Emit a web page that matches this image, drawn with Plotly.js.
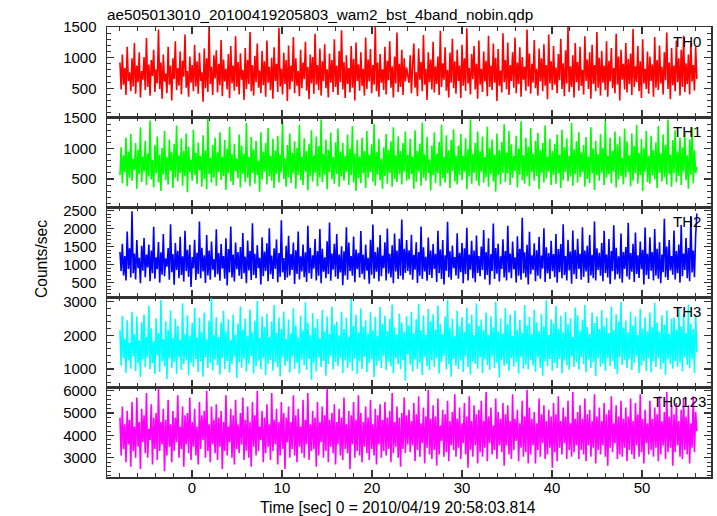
<!DOCTYPE html>
<html><head><meta charset="utf-8">
<script src="https://cdn.plot.ly/plotly-3.0.1.min.js"></script>
<style>html,body{margin:0;padding:0;background:#fff}#chart{width:717px;height:516px}</style>
</head><body><div id="chart"></div>
<script>
const chartTitle = "ae505013010_20100419205803_wam2_bst_4band_nobin.qdp";
const xTitle = "Time [sec] 0 = 2010/04/19 20:58:03.814";
const yTitle = "Counts/sec";
const bandLabels = ["TH0", "TH1", "TH2", "TH3", "TH0123"];
const bandColors = ["#ff0000", "#00ff00", "#0000ff", "#00ffff", "#ff00ff"];
const timeStart = -8.0;
const timeEnd = 56.1;

const th0 = [
920,480,1050,560,830,390,1180,620,760,450,990,530,1240,410,870,600,1090,350,780,640,
1010,470,1320,520,890,380,960,700,1130,440,810,580,1460,490,920,330,1050,610,740,420,
1180,560,870,300,990,650,1270,470,830,540,1100,400,950,690,1380,510,780,360,1020,590,
880,450,1210,530,940,410,1080,620,760,280,1150,500,990,440,1500,570,850,390,1040,660,
1120,430,900,550,1290,370,970,610,820,480,1060,340,1190,580,870,460,1350,520,930,400,
1070,640,800,310,1160,490,960,570,1420,450,880,380,1030,600,1230,510,790,420,1110,550,
940,360,1280,590,850,470,1000,330,1170,620,900,440,1490,530,820,400,1080,570,960,290,
1200,480,870,610,1340,420,990,540,780,370,1130,500,920,650,1260,460,850,320,1050,580,
1010,410,1390,560,880,470,1150,380,940,620,1220,500,810,350,1070,590,960,440,1300,520,
870,390,1110,600,1450,480,930,340,1040,570,830,430,1190,510,980,300,1250,620,890,460,
1090,540,820,380,1330,490,970,610,1140,420,880,560,1500,450,920,360,1060,590,810,470,
1180,400,950,630,1270,510,860,350,1020,580,1410,440,900,520,1130,390,990,610,840,700,
590,1040,420,880,1230,510,760,370,1150,640,930,450,1370,560,820,310,1090,600,970,480,
1260,430,860,570,1020,390,1440,520,910,640,1170,460,800,350,1080,590,1310,500,940,410,
1130,620,870,340,1210,540,990,460,1480,580,830,400,1060,650,1190,480,900,330,1280,560,
820,440,1100,610,950,370,1360,520,870,470,1230,590,1000,290,1140,540,790,430,1400,600,
960,480,1250,390,880,620,1090,510,1330,420,920,570,1170,360,1010,640,850,460,1460,530,
1070,410,900,590,1290,500,820,380,1150,610,990,450,1220,540,880,320,1380,580,940,470,
1190,560,840,420,1060,630,1310,490,910,370,1120,580,1500,440,860,520,1040,350,1240,600,
930,460,1180,540,800,400,1350,620,970,490,1090,330,1210,570,880,450,1420,510,1000,380,
1110,590,870,470,1270,360,950,610,1160,500,830,420,1390,560,1020,300,1130,640,900,480,
1240,430,980,570,1070,390,1470,520,860,600,1190,450,940,340,1300,580,820,490,1100,410,
1020,620,890,360,1340,510,960,470,1200,580,850,400,1090,630,1410,490,920,320,1160,550,
870,450,1280,600,990,380,1130,520,1360,440,910,570,1050,400,1250,610,880,460,1180,650];

const th1 = [
560,1020,430,890,610,1180,380,950,520,1240,470,830,650,1090,340,980,580,1350,450,870,
620,1130,400,920,540,1460,490,810,360,1060,590,1200,440,900,300,1010,570,1290,480,860,
410,1150,630,940,350,1080,520,1380,460,890,600,1170,390,960,540,1250,280,1030,610,820,
470,1310,560,930,420,1100,640,880,370,1220,500,970,330,1490,580,850,440,1060,520,1180,
390,940,610,1270,480,870,550,1140,320,1000,590,1360,460,910,400,1080,630,830,510,1230,
360,1050,580,920,450,1420,520,860,380,1190,600,990,420,1130,560,800,290,1270,490,950,
620,1090,410,1340,540,880,470,1160,350,970,580,1210,440,900,610,1450,500,840,370,1060,
530,1250,430,930,590,1120,340,1010,560,1390,480,870,400,1170,620,960,310,1080,540,1300,
460,890,600,1200,380,1040,520,1480,450,910,570,1150,330,980,610,1260,490,860,420,1100,
580,1330,370,950,540,1090,470,880,620,1230,400,1000,560,1370,440,920,300,1140,510,870,
430,1180,590,960,350,1290,520,900,610,1070,460,1410,390,940,570,1160,480,830,340,1020,
550,1240,420,980,600,1120,370,1350,500,890,450,1200,580,960,410,1090,620,1280,470,900,
490,1160,580,870,340,1300,450,960,620,1080,390,1430,520,900,470,1190,600,820,310,1050,
560,1270,430,920,600,1110,380,1390,510,860,440,1220,590,970,350,1140,630,1320,460,890,
410,1050,570,1240,480,880,620,1170,330,990,540,1480,420,910,600,1090,470,1280,390,950,
620,1200,440,860,530,1360,370,1010,580,1150,460,900,290,1250,560,970,410,1110,600,1400,
450,930,590,1290,400,1070,520,880,630,1210,360,1000,570,1450,480,890,420,1180,540,1030,
380,1340,610,920,470,1130,550,1260,330,980,600,1090,440,1380,510,870,620,1160,400,960,
570,1080,420,1230,590,900,350,1310,480,1020,610,1170,460,880,540,1420,390,990,580,1120,
440,1270,530,940,610,1060,370,1190,500,870,430,1350,590,1000,320,1130,560,910,470,1240,
600,1010,400,1460,520,880,580,1180,430,960,620,1280,360,1070,490,1200,550,850,410,1330,
530,1120,610,890,380,1250,470,1040,590,1390,420,930,560,1160,300,1010,620,1290,450,880,
420,1210,560,980,490,1100,350,1370,600,920,460,1230,530,1060,410,1480,580,900,370,1140,
590,1300,440,950,550,1180,400,1020,620,1260,480,890,340,1150,570,1350,430,970,600,700];

const th2 = [
1350,820,1580,700,1240,560,1920,880,1450,640,2480,760,1310,590,1680,900,1190,480,1520,830,
1740,650,1280,920,1560,540,1390,760,2050,610,1200,870,1630,500,1340,720,1850,680,1170,940,
1460,580,2120,790,1290,440,1600,850,1380,620,1770,710,1230,530,1940,820,1410,660,1550,380,
1210,900,1690,570,1330,740,2200,620,1470,810,1260,490,1820,700,1390,580,1640,860,1150,650,
1980,730,1320,550,1570,890,1240,610,1730,420,1430,780,2060,640,1280,530,1610,870,1350,690,
1490,600,1880,760,1220,480,1670,840,1380,570,2150,710,1300,620,1540,900,1190,450,1760,680,
1360,820,1590,540,2010,730,1250,600,1450,880,1700,510,1320,660,2230,780,1180,570,1520,640,
1800,700,1290,850,1610,460,1400,740,1920,590,1230,810,1560,650,1340,520,2080,760,1470,610,
1260,890,1710,560,1380,690,1990,480,1440,800,1200,620,1650,740,2170,550,1310,860,1580,660,
1850,600,1280,780,1510,430,1370,700,2040,580,1610,820,1240,690,1780,510,1420,870,1330,640,
1930,740,1270,590,1560,830,1190,470,1690,720,2110,610,1350,800,1480,540,1820,680,1250,900,
1620,560,2000,750,1300,640,1540,480,1860,810,1390,600,1720,690,2250,580,1440,770,1680,820,
1400,720,1830,580,1270,860,1620,490,1350,690,2060,600,1480,810,1220,550,1750,710,1390,630,
1570,880,1300,520,1940,760,1420,600,1680,450,1260,830,2190,650,1370,580,1530,900,1210,700,
1870,610,1330,790,1600,480,1450,740,2020,560,1280,860,1660,620,1390,510,1810,770,1240,680,
1500,850,1960,590,1350,710,1730,440,1290,820,2140,600,1460,750,1580,530,1230,880,1700,640,
1380,560,2080,780,1310,620,1640,870,1200,500,1790,690,1440,580,2300,760,1340,640,1550,450,
1910,730,1260,850,1590,540,1400,690,1770,610,1250,890,2010,520,1480,760,1320,600,1660,820,
1290,650,1850,500,1430,790,1570,620,2120,710,1240,560,1690,840,1360,470,1950,730,1410,600,
1720,880,1300,580,2040,660,1390,810,1520,490,1820,700,1270,620,2200,560,1450,850,1330,690,
1600,540,1940,770,1280,640,1710,460,1380,820,2090,590,1470,730,1230,610,1860,500,1350,880,
1490,670,2160,590,1320,800,1580,520,1890,740,1260,630,1640,870,1410,450,2030,710,1300,600,
1760,830,1350,560,1990,690,1440,610,1620,480,1280,790,2270,650,1500,570,1680,840,1240,720,
1950,590,1380,760,1560,500,2100,680,1310,850,1740,620,1460,540,2350,780,1390,650,1820,2420];

const th3 = [
2150,1100,2580,1320,1900,880,2450,1250,1780,1010,2700,1380,2030,940,2560,1180,1850,760,2390,1290,
2620,1050,1960,1340,2880,990,2210,1170,1820,850,2510,1400,2070,920,3050,1230,1890,1080,2420,700,
2160,1310,2740,1020,1930,1200,2490,860,2280,1360,1870,980,2950,1140,2050,1260,2600,810,1990,1190,
2370,1060,2810,1300,1940,910,2530,1220,2100,770,2680,1350,1880,1030,2440,1170,3100,960,2020,1280,
2540,1110,1950,840,2390,1330,2730,1000,2110,1240,2480,890,1860,1150,2620,1370,2020,730,2350,1210,
2860,1040,2170,1290,2500,920,1980,1160,2770,1390,2090,870,2430,1080,3020,1250,1920,990,2560,1320,
2250,820,2640,1140,1960,1270,2410,950,2900,1200,2080,1050,2530,780,2190,1340,2710,1090,1900,1230,
2470,900,2060,1370,2800,1010,2300,1180,1940,860,2590,1280,2150,1110,2980,970,2380,1300,2010,680,
2660,1170,2230,930,2490,1350,1910,1060,2750,1240,2120,800,2560,1150,2040,1380,2850,990,2320,1210,
2410,1090,2000,1330,2700,880,2180,1260,2520,1020,1960,1190,3080,940,2290,1310,2610,850,2090,1230,
2800,1000,2260,1360,2450,910,2060,1170,2690,1290,2150,760,2550,1100,1980,1240,2840,1030,2340,1380,
2580,960,2130,1220,2490,1080,2920,870,2240,1320,2030,1140,2650,990,2380,1270,2110,660,2570,1430,
2290,1130,2700,930,2060,1280,2480,1010,2940,1190,2150,820,2590,1360,2010,1080,2780,960,2420,1250,
2630,1050,2180,1320,2890,870,2340,1210,2050,1390,2560,990,3060,1140,2210,770,2490,1300,1970,1100,
2720,1000,2270,1250,2540,910,2100,1370,2830,1060,2360,840,2610,1220,2000,1160,2950,1010,2280,1340,
2470,880,2150,1290,2680,1120,2020,970,2570,1380,2240,1030,3000,1190,2110,750,2500,1270,2060,1090,
2810,1150,2330,940,2620,1310,1990,1070,2740,1200,2170,860,2460,1350,2080,1010,2900,1130,2300,990,
2550,1270,2040,1100,2760,920,2390,1340,2130,1040,2640,800,2260,1230,3040,1080,2010,1290,2480,950,
2360,1190,2870,1020,2200,1300,2580,870,2090,1250,2700,1110,2330,980,2510,1370,1950,1060,2830,1200,
2600,980,2140,1350,2460,1140,2910,900,2250,1280,2040,1030,2680,1210,2370,790,2570,1330,2190,1070,
2750,1160,2280,940,2520,1320,2070,1090,2860,1230,2160,1000,2630,850,2410,1360,2990,1120,2230,1260,
2440,1030,2090,1290,2710,970,2300,1180,2560,1380,2010,880,2790,1100,2200,1240,2530,940,2120,1310,
2680,900,2250,1220,2970,1060,2380,1330,2110,990,2600,1170,2320,830,2740,1280,2050,1140,2490,1010,
2530,1240,2170,1070,2820,1190,2260,930,2640,1350,2080,1120,2920,1020,2350,1290,2190,880,2610,1500];

const th0123 = [
4800,3100,5300,3400,4500,2800,5100,3600,4700,2600,5500,3300,4400,3000,5700,3500,4600,2500,5200,3700,
4900,3200,5900,3000,4300,3800,5400,2700,4800,3400,5000,2900,6100,3300,4600,3600,5200,2400,4700,3100,
5600,3500,4500,2800,5100,3300,4800,3700,5800,3000,4400,3400,5300,2600,4900,3600,5000,3200,5700,2900,
4600,3500,5200,3100,4400,2700,5500,3400,4900,3800,5100,3000,6000,3300,4500,2800,5300,3600,4700,3200,
5400,2900,4800,3500,5100,2500,4600,3300,5800,3100,4400,3700,5200,3000,4900,2700,5600,3400,4500,3200,
5000,3600,5700,2900,4700,3300,5300,3000,4600,2600,5500,3500,4900,3100,6000,3300,4400,3800,5100,2800,
4800,3200,5400,3500,4500,2900,5900,3300,4700,3600,5200,2700,4600,3100,5500,3400,5000,2500,4800,3700,
5300,3000,4600,3400,5800,3100,4900,2800,5200,3500,4400,3200,5600,3000,4700,3600,5900,2900,4500,3300,
5100,3400,4800,2600,5500,3100,4600,3700,5300,3000,4900,3300,6100,2800,4700,3500,5000,3200,5400,2700,
4600,3600,5200,3100,4800,2900,5700,3400,4500,3200,5100,2500,4900,3600,5500,3000,4700,3300,5800,3100,
5000,2800,4600,3500,5300,3200,4800,2900,5600,3400,4500,3100,5200,2700,4900,3600,5400,3000,4700,3300,
5500,3100,4800,3400,5100,2800,5900,3200,4600,3500,5300,3000,4800,2600,5000,3400,5700,3200,4900,3600,
5150,3250,4650,3550,5450,2850,4950,3350,5750,3050,4550,3650,5250,2750,4850,3450,6050,3150,4750,2950,
5350,3350,4850,2650,5650,3150,4450,3750,5150,3050,4950,3250,5550,2850,4650,3550,5050,3350,5850,3050,
4750,3450,5250,2950,4550,3650,5450,3150,4850,2550,5750,3350,4650,3050,5350,3550,4950,2750,5150,3250,
5550,3050,4650,3450,5950,2850,4850,3650,5250,3150,4450,3350,5650,2950,5050,3550,4750,3250,5450,2650,
4950,3550,5350,3150,4650,2950,5850,3350,4750,3750,5150,2850,4550,3450,5550,3050,4850,3250,6050,2750,
5250,3150,4750,3550,5050,2750,4550,3350,5650,3050,4950,3650,5350,2950,4650,3150,5150,3450,4850,2550,
5450,3250,4950,2850,5750,3450,4650,3150,5250,3650,4850,2950,5550,3350,4550,3050,5950,3250,4750,3550,
5050,2950,5350,3350,4750,3150,5650,2850,4950,3550,5150,3050,4650,3450,5850,2750,4850,3350,5250,3150,
4650,3550,5450,3050,4950,2650,5150,3450,5750,3250,4550,3650,5350,2950,4850,3150,5550,3050,4750,3450,
5250,2850,4850,3350,5650,3150,4650,2950,5450,3550,4950,3050,5850,3250,4750,2750,5150,3650,4550,3150,
5550,3350,4750,3050,5250,3450,4950,2850,5750,3150,4650,3550,5050,2950,5950,3250,4850,3450,5350,2650,
4950,3250,5450,3550,4650,3050,5150,2950,5650,3350,4850,3150,5350,2750,4550,3450,5750,3250,5050,4200];

const series = [th0, th1, th2, th3, th0123];

// ---- layout / style ----
const yRanges = [[30, 1502], [38, 1520], [100, 2600], [465, 3140], [2140, 6170]];
const yDticks = [500, 500, 500, 1000, 1000];
const yMinor = [100, 100, 100, 200, 200];
const FONT = "Liberation Sans, Arial, sans-serif";
const AX = "#333333";

const n = th0.length;
const step = (timeEnd - timeStart) / (n - 1);
const times = th0.map((_, i) => timeStart + i * step);

const traces = series.map((ys, i) => ({
  type: "scatter", mode: "lines",
  x: times, y: ys,
  xaxis: i === 0 ? "x" : "x" + (i + 1),
  yaxis: i === 0 ? "y" : "y" + (i + 1),
  line: { color: bandColors[i], width: 1.6, simplify: false },
  hoverinfo: "skip"
}));

const layout = {
  width: 717, height: 516,
  margin: { l: 107, r: 6, t: 27, b: 39 },
  paper_bgcolor: "#fff", plot_bgcolor: "#fff",
  showlegend: false, hovermode: false,
  font: { family: FONT, size: 15, color: "#000" },
  title: { text: chartTitle, font: { family: FONT, size: 15.3, color: "#000" },
           xref: "paper", x: 0, xanchor: "left", yref: "container", y: 1 - 15 / 516, yanchor: "middle" },
  annotations: [
    { text: xTitle, xref: "paper", yref: "paper", x: (397.5 - 107) / 604, y: (477 - 507) / 450,
      xanchor: "center", yanchor: "middle", showarrow: false,
      font: { family: FONT, size: 15.6, color: "#000" } },
    { text: yTitle, xref: "paper", yref: "paper", x: (41 - 107) / 604, y: (477 - 259) / 450,
      xanchor: "center", yanchor: "middle", textangle: -90, showarrow: false,
      font: { family: FONT, size: 15.6, color: "#000" } }
  ]
};

for (let i = 0; i < 5; i++) {
  const sfx = i === 0 ? "" : String(i + 1);
  const dom = [(4 - i) * 0.2, (5 - i) * 0.2];
  layout["xaxis" + sfx] = {
    anchor: "y" + sfx,
    matches: i === 0 ? undefined : "x",
    range: [-9.44, 57.67],
    tick0: 0, dtick: 10,
    ticks: "inside", ticklen: 7, tickwidth: 1.3, tickcolor: AX,
    showline: true, linecolor: AX, linewidth: 1.5, mirror: "allticks",
    showgrid: false, zeroline: false,
    showticklabels: i === 4,
    ticklabelstandoff: -4,
    tickfont: { family: FONT, size: 15, color: "#000" },
    minor: { dtick: 2, tick0: 0, ticks: "inside", ticklen: 4, tickwidth: 1, tickcolor: AX, showgrid: false }
  };
  layout["yaxis" + sfx] = {
    anchor: "x" + sfx,
    domain: dom,
    range: yRanges[i],
    tick0: 0, dtick: yDticks[i],
    ticks: "inside", ticklen: 7, tickwidth: 1.3, tickcolor: AX,
    showline: true, linecolor: AX, linewidth: 1.5, mirror: "allticks",
    showgrid: false, zeroline: false,
    ticklabelstandoff: 6,
    tickfont: { family: FONT, size: 15, color: "#000" },
    minor: { dtick: yMinor[i], tick0: 0, ticks: "inside", ticklen: 4, tickwidth: 1, tickcolor: AX, showgrid: false }
  };
  layout.annotations.push({
    text: bandLabels[i], xref: "paper", yref: "paper",
    x: i === 4 ? 1 - 3 / 604 : 1 - 8 / 604, xanchor: "right",
    y: dom[1] - 4 / 450, yanchor: "top",
    showarrow: false, font: { family: FONT, size: 15, color: "#000" }
  });
}

Plotly.newPlot("chart", traces, layout, { staticPlot: true, displayModeBar: false });
</script></body></html>
